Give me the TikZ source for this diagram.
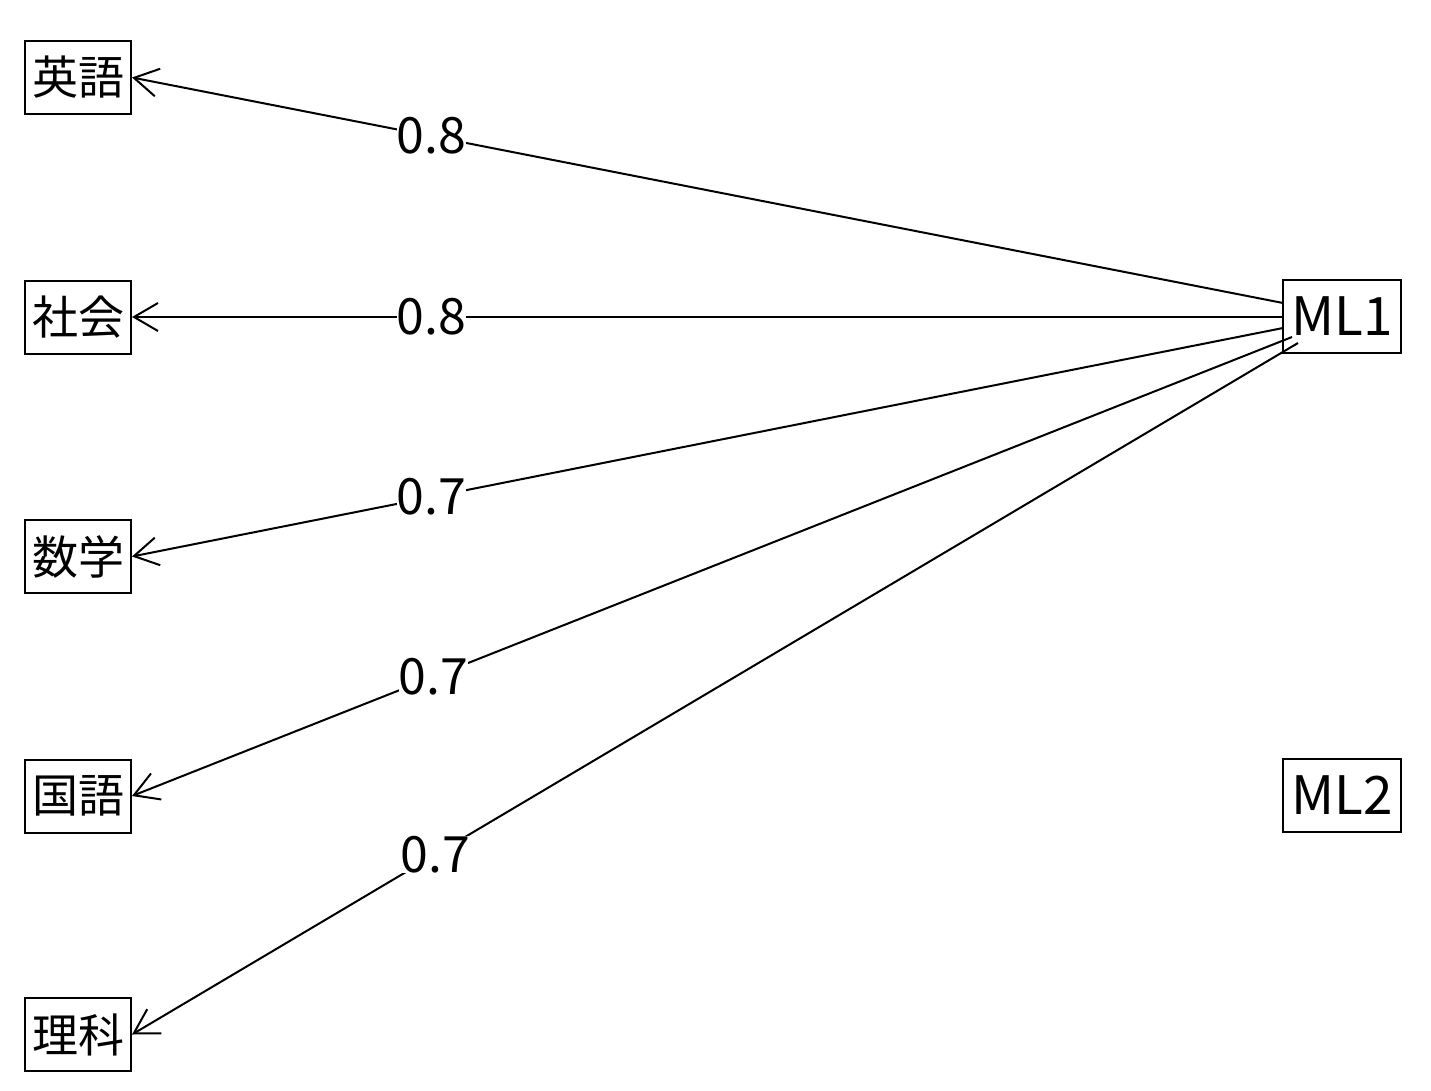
\documentclass[tikz,border=0pt]{standalone}
\usepackage{fontspec}
\setmainfont{Noto Sans CJK JP}
\usetikzlibrary{arrows.meta}
\begin{document}
\begin{tikzpicture}[x=1pt,y=-1pt,
  var/.style={draw=black,line width=2pt,minimum width=106pt,minimum height=73pt,inner sep=0pt,font=\fontsize{46}{46}\selectfont},
  fac/.style={draw=black,line width=2pt,minimum width=118pt,minimum height=73pt,inner sep=0pt,font=\fontsize{53}{53}\selectfont},
  edge/.style={line width=2pt,-{Straight Barb[length=24pt,width=28pt,line width=2pt]}},
  lbl/.style={pos=0.74,fill=white,inner sep=0pt,font=\fontsize{50}{50}\selectfont}]
\useasboundingbox (0,0) rectangle (1431,1091);
\fill[white] (0,0) rectangle (1431,1091);
\node[var] (eng) at (78,77.5) {英語};
\node[var] (soc) at (78,317) {社会};
\node[var] (mat) at (78,556.5) {数学};
\node[var] (jpn) at (78,796) {国語};
\node[var] (sci) at (78,1034.5) {理科};
\node[fac] (ml1) at (1342,316.5) {ML1};
\node[fac] (ml2) at (1342,795.5) {ML2};
\coordinate (s1) at (1283,303);
\coordinate (s2) at (1283,317);
\coordinate (s3) at (1283,328);
\coordinate (s4) at (1292,337);
\coordinate (s5) at (1298,343);
\draw[edge] (s1) -- node[lbl]{0.8} (eng.east);
\draw[edge] (s2) -- node[lbl]{0.8} (soc.east);
\draw[edge] (s3) -- node[lbl]{0.7} (mat.east);
\draw[edge] (s4) -- node[lbl]{0.7} (jpn.east);
\draw[edge] (s5) -- node[lbl]{0.7} (sci.east);
\end{tikzpicture}
\end{document}
